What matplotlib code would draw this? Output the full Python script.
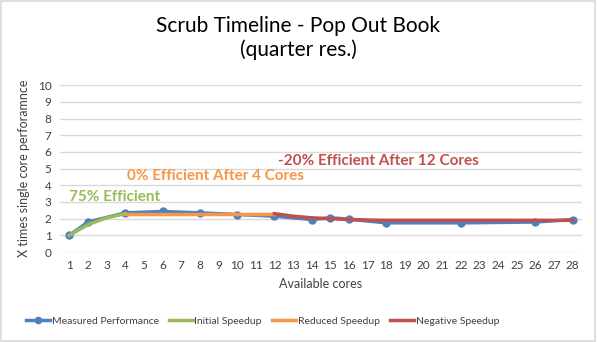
import numpy as np
import matplotlib.pyplot as plt
from matplotlib.patches import Rectangle

cores = list(range(1, 29))
meas_x = [1, 2, 4, 6, 8, 10, 12, 14, 15, 16, 18, 22, 26, 28]
meas_y = [1.0, 1.8, 2.35, 2.43, 2.35, 2.25, 2.15, 1.95, 2.05, 1.97, 1.75, 1.75, 1.8, 1.95]
init_x = [1, 2, 3, 4]
init_y = [1.0, 1.65, 2.05, 2.3]
red_x = [4, 6, 8, 10, 12]
red_y = [2.3, 2.3, 2.3, 2.3, 2.3]
neg_x = [12, 13, 14, 15, 16, 17, 18, 22, 26, 28]
neg_y = [2.3, 2.15, 2.05, 2.0, 1.95, 1.92, 1.9, 1.9, 1.9, 1.9]

blue = '#4F81BD'
green = '#9BBB59'
orange = '#F79646'
red = '#C0504D'

plt.rcParams['font.family'] = ['Lato', 'DejaVu Sans']

fig = plt.figure(figsize=(5.97, 3.42), dpi=100)
fig.patches.append(Rectangle((0.002, 0.003), 0.995, 0.993, transform=fig.transFigure,
                             fill=False, edgecolor='#D9D9D9', lw=1.2))
ax = fig.add_axes([0.1005, 0.263, 0.8745, 0.488])

ax.plot(meas_x, meas_y, color=blue, lw=2.5, marker='o', ms=5, label='Measured Performance', zorder=2)
ax.plot(init_x, init_y, color=green, lw=2.5, label='Initial Speedup', zorder=3)
ax.plot(red_x, red_y, color=orange, lw=2.5, label='Reduced Speedup', zorder=3)
ax.plot(neg_x, neg_y, color=red, lw=2.5, label='Negative Speedup', zorder=3)

ax.text(1.0, 3.3, '75% Efficient', color=green, fontsize=11, fontweight='bold', va='center')
ax.text(4.1, 4.57, '0% Efficient After 4 Cores', color=orange, fontsize=11, fontweight='bold', va='center')
ax.text(12.2, 5.47, '-20% Efficient After 12 Cores', color=red, fontsize=11, fontweight='bold', va='center')

ax.set_xlim(0.5, 28.5)
ax.set_ylim(0, 10)
ax.set_xticks(cores)
ax.set_yticks(range(0, 11))
ax.grid(axis='y', color='#D9D9D9', lw=1)
ax.set_axisbelow(True)
for s in ax.spines.values():
    s.set_visible(False)
ax.tick_params(length=0, labelsize=8.5, colors='#404040', pad=6)
ax.set_xlabel('Available cores', fontsize=9, color='#404040', labelpad=5)
ax.set_ylabel('X times single core perforamnce', fontsize=9, color='#404040', labelpad=6)

fig.text(0.5, 0.925, 'Scrub Timeline - Pop Out Book', ha='center', va='center', fontsize=15)
fig.text(0.5, 0.855, '(quarter res.)', ha='center', va='center', fontsize=15)

fig.legend(loc='center', bbox_to_anchor=(0.44, 0.06), ncol=4, frameon=False, fontsize=7.5,
           handlelength=2.3, columnspacing=1.0, handletextpad=0.15, labelcolor='#404040',
           markerscale=0.9)

fig.savefig('out.png', dpi=100)
